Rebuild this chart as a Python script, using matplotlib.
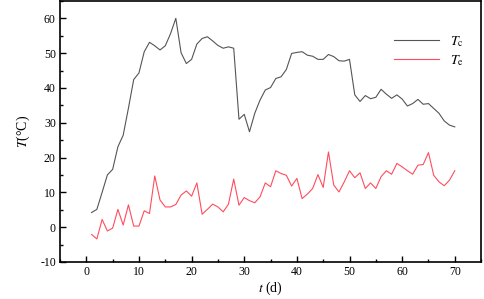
import numpy as np
import matplotlib
matplotlib.use('Agg')
import matplotlib.pyplot as plt
from matplotlib.ticker import MultipleLocator

plt.rcParams['font.family'] = ['Liberation Serif', 'DejaVu Serif']
plt.rcParams['mathtext.fontset'] = 'stix'
plt.rcParams['axes.unicode_minus'] = False

# 天数
days = list(range(1, 71))
# Tc 灰线
tc = [4.2, 5.1, 10.0, 15.0, 16.6, 23.1, 26.4, 34.2, 42.4, 44.3,
      50.4, 53.1, 52.1, 50.9, 52.1, 55.6, 60.0, 50.1, 47.0, 48.2,
      52.6, 54.2, 54.7, 53.5, 52.2, 51.4, 51.8, 51.4, 31.0, 32.4,
      27.4, 32.7, 36.5, 39.4, 40.1, 42.7, 43.2, 45.3, 49.9, 50.2,
      50.4, 49.4, 49.1, 48.2, 48.2, 49.6, 49.0, 47.8, 47.7, 48.2,
      38.0, 36.1, 37.8, 36.9, 37.3, 39.6, 38.2, 37.0, 38.0, 36.8,
      34.8, 35.5, 36.7, 35.3, 35.5, 34.1, 32.7, 30.5, 29.3, 28.8]
# Te 红线
te = [-2.1, -3.4, 2.2, -1.1, -0.3, 5.1, 0.6, 6.4, 0.3, 0.3,
      4.7, 3.9, 14.7, 7.8, 5.8, 5.8, 6.5, 9.2, 10.4, 8.9,
      12.7, 3.7, 5.1, 6.6, 5.8, 4.4, 6.6, 13.8, 6.3, 8.5,
      7.6, 7.0, 8.7, 12.7, 11.6, 16.2, 15.4, 14.9, 11.8, 14.0,
      8.2, 9.5, 11.1, 15.1, 11.4, 21.6, 12.1, 10.1, 13.0, 16.2,
      14.2, 15.6, 11.1, 12.7, 11.1, 14.5, 16.2, 15.2, 18.3, 17.3,
      16.2, 15.2, 17.8, 18.0, 21.4, 14.9, 13.0, 11.9, 13.5, 16.2]

fig = plt.figure(figsize=(4.84, 2.99), dpi=100)
ax = fig.add_axes([0.124, 0.124, 0.870, 0.873])

ax.plot(days, tc, color='#555555', lw=0.8, label=r'$T_\mathrm{c}$')
ax.plot(days, te, color='#ff4c5c', lw=0.8, label=r'$T_\mathrm{e}$')

ax.set_xlim(-5, 75)
ax.set_ylim(-10, 65)
ax.xaxis.set_minor_locator(MultipleLocator(5))
ax.yaxis.set_minor_locator(MultipleLocator(5))
ax.set_xticks(range(0, 71, 10))
ax.set_yticks(range(-10, 61, 10))
ax.tick_params(which='both', direction='in', labelsize=8.5, width=1)
ax.tick_params(which='major', length=4, pad=3)
ax.tick_params(which='minor', length=2)
for s in ax.spines.values():
    s.set_linewidth(1.2)

ax.set_xlabel(r'$t$ (d)', fontsize=10, labelpad=1)
ax.set_ylabel(r'$T$(°C)', fontsize=10, labelpad=6)

leg = ax.legend(loc='upper right', frameon=False, fontsize=10,
                bbox_to_anchor=(0.99, 0.92), handlelength=3.3, labelspacing=0.3)

fig.savefig('out.png', dpi=100)
